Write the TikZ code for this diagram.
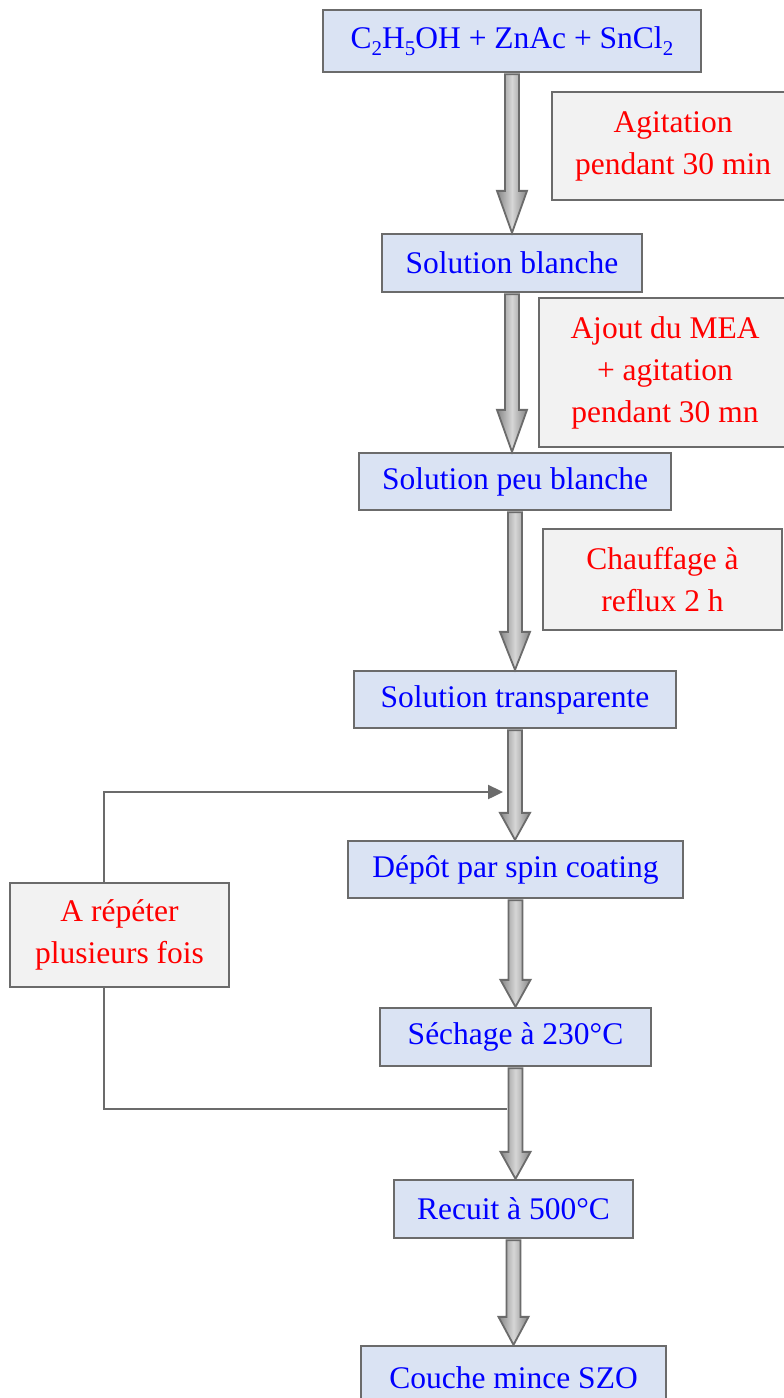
\documentclass[tikz,border=0pt]{standalone}
\usepackage{fontspec}
\setmainfont{Liberation Serif}
\usetikzlibrary{arrows.meta,calc}
\definecolor{boxblue}{HTML}{DAE3F3}
\definecolor{boxgray}{HTML}{F2F2F2}
\definecolor{edgegray}{HTML}{6B6B6B}
\definecolor{txtblue}{HTML}{0000FF}
\definecolor{txtred}{HTML}{FF0000}
\definecolor{arrdark}{HTML}{858585}
\definecolor{arrlight}{HTML}{D6D6D6}
\newcommand\chemsub[1]{\raisebox{-7pt}{\fontsize{21pt}{21pt}\selectfont #1}}
\tikzset{
  stepbox/.style={draw=edgegray, line width=2.3pt, fill=boxblue, text=txtblue,
    inner sep=0pt, align=center, font=\fontsize{31.5pt}{42pt}\selectfont},
  notebox/.style={draw=edgegray, line width=2.3pt, fill=boxgray, text=txtred,
    inner sep=0pt, align=center, font=\fontsize{31.5pt}{42pt}\selectfont},
  blockarrow/.style={draw=edgegray, line width=1.8pt, line join=miter,
    left color=arrdark, right color=arrdark, middle color=arrlight},
  loopline/.style={draw=edgegray, line width=2.4pt}
}
\newcommand\flowarrow[3]{%
  \path[blockarrow] let \p1=(#1.south), \p2=(#2.north) in
    (\x1-7pt,\y1-1pt) -- (\x1-7pt,\y2+#3) -- (\x1-15pt,\y2+#3) -- (\x1,\y2)
    -- (\x1+15pt,\y2+#3) -- (\x1+7pt,\y2+#3) -- (\x1+7pt,\y1-1pt) -- cycle;}
\begin{document}
\begin{tikzpicture}[x=1pt,y=-1pt]
\clip (0,0) rectangle (784,1398);
\fill[white] (0,0) rectangle (784,1398);
% main steps
\node[stepbox, minimum width=378pt, minimum height=62pt] (b1) at (512,41)
  {C\chemsub{2}H\chemsub{5}OH + ZnAc + SnCl\chemsub{2}};
\node[stepbox, minimum width=260pt, minimum height=58pt] (b2) at (512,263) {Solution blanche};
\node[stepbox, minimum width=312pt, minimum height=57pt] (b3) at (515,481.5) {Solution peu blanche};
\node[stepbox, minimum width=322pt, minimum height=57pt] (b4) at (515,699.5) {Solution transparente};
\node[stepbox, minimum width=335pt, minimum height=57pt] (b5) at (515.5,869.5) {Dépôt par spin coating};
\node[stepbox, minimum width=271pt, minimum height=58pt] (b6) at (515.5,1037) {Séchage à 230°C};
\node[stepbox, minimum width=239pt, minimum height=58pt] (b7) at (513.5,1209) {Recuit à 500°C};
\node[stepbox, minimum width=305pt, minimum height=64pt] (b8) at (513.5,1378) {Couche mince SZO};
% notes
\node[notebox, minimum width=242pt, minimum height=108pt] (a1) at (673,146) {Agitation\\pendant 30 min};
\node[notebox, minimum width=252pt, minimum height=149pt] (a2) at (665,372.5) {Ajout du MEA\\+ agitation\\pendant 30 mn};
\node[notebox, minimum width=239pt, minimum height=101pt] (a3) at (662.5,579.5) {Chauffage à\\reflux 2 h};
\node[notebox, minimum width=219pt, minimum height=104pt] (a4) at (119.5,935) {A répéter\\plusieurs fois};
% block arrows
\flowarrow{b1}{b2}{42pt}
\flowarrow{b2}{b3}{42pt}
\flowarrow{b3}{b4}{38pt}
\flowarrow{b4}{b5}{27pt}
\flowarrow{b5}{b6}{27pt}
\flowarrow{b6}{b7}{27pt}
\flowarrow{b7}{b8}{28pt}
% repeat loop
\coordinate (loopin) at (503,792);
\coordinate (loopout) at (507,1109);
\draw[loopline, -{Triangle[length=15pt,width=14pt]}] ([xshift=-15.5pt]a4.north) |- (loopin);
\draw[loopline] ([xshift=-15.5pt]a4.south) |- (loopout);
\end{tikzpicture}
\end{document}
